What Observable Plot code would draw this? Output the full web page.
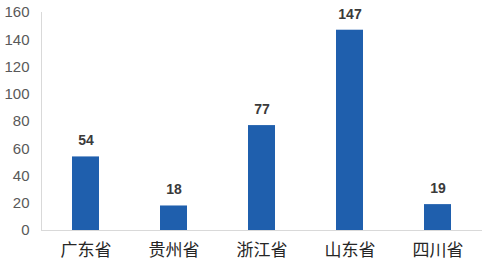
<!DOCTYPE html>
<html>
<head>
<meta charset="utf-8">
<script src="https://cdn.jsdelivr.net/npm/d3@7"></script>
<script src="https://cdn.jsdelivr.net/npm/@observablehq/plot@0.6"></script>
<style>
  html, body { margin: 0; padding: 0; background: #fff; }
  #chart svg { display: block; }
</style>
</head>
<body>
<div id="chart"></div>
<script>
const provinces = ["广东省", "贵州省", "浙江省", "山东省", "四川省"];
const counts = [54, 18, 77, 147, 19];
const yTicks = [0, 20, 40, 60, 80, 100, 120, 140, 160];

const data = provinces.map((p, i) => ({province: p, count: counts[i]}));

const chart = Plot.plot({
  width: 491,
  height: 267,
  marginLeft: 41,
  marginRight: 9,
  marginTop: 12,
  marginBottom: 37,
  style: {fontFamily: "'Liberation Sans', 'Noto Sans CJK SC', sans-serif", background: "#fff"},
  x: {domain: provinces, paddingInner: 0.69, paddingOuter: 0.345, label: null},
  y: {domain: [0, 160], label: null},
  marks: [
    Plot.frame({anchor: "left", stroke: "#d9d9d9"}),
    Plot.barY(data, {x: "province", y: "count", fill: "#1f5fad"}),
    Plot.ruleY([0], {stroke: "#d9d9d9", strokeWidth: 1.2}),
    Plot.axisY(yTicks, {tickSize: 0, tickPadding: 12, fontSize: 15, fill: "#595959", label: null}),
    Plot.axisX({tickSize: 0, tickPadding: 13, fontSize: 17, fill: "#262626", fontFamily: "'Noto Sans CJK SC', sans-serif", label: null}),
    Plot.text(data, {x: "province", y: "count", text: d => String(d.count), dy: -16, fontSize: 14, fontWeight: "bold", fill: "#3a3a3a"})
  ]
});
document.getElementById("chart").append(chart);
</script>
</body>
</html>
